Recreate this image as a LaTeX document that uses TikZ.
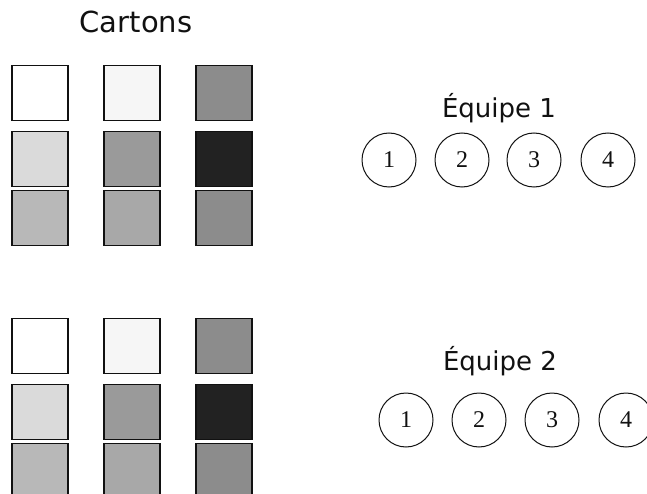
\documentclass[tikz,border=0pt]{standalone}
\usepackage{fontspec}
\setmainfont{DejaVu Sans}
\newfontfamily\numfont{Liberation Serif}
\usetikzlibrary{positioning}
\definecolor{ink}{HTML}{111111}
\definecolor{paper}{HTML}{FFFFFF}
\definecolor{g1}{HTML}{F6F6F6}
\definecolor{g2}{HTML}{DADADA}
\definecolor{g3}{HTML}{B8B8B8}
\definecolor{g4}{HTML}{A8A8A8}
\definecolor{g5}{HTML}{9A9A9A}
\definecolor{g6}{HTML}{8C8C8C}
\definecolor{dark}{HTML}{222222}
\tikzset{
  carton/.style={draw=ink, line width=1.6pt, minimum width=56pt, minimum height=55pt,
    inner sep=0pt},
  joueur/.style={draw=ink, line width=1pt, circle, minimum size=54pt, inner sep=0pt,
    font=\numfont\fontsize{24pt}{26pt}\selectfont, text=ink},
  titre/.style={anchor=base, text=ink, font=\fontsize{29pt}{32pt}\selectfont},
  equipe/.style={anchor=base, text=ink, font=\fontsize{26pt}{30pt}\selectfont},
}

\begin{document}
\begin{tikzpicture}[x=1pt,y=-1pt]
    \useasboundingbox[fill=paper] (0,0) rectangle (647,494);
    \node[titre] (cartons) at (136,33) {Cartons};
    % premier jeu de cartons
    \node[carton, fill=paper] (a11) at (40,93) {};
    \node[carton, fill=g1] (a12) at (132,93) {};
    \node[carton, fill=g6] (a13) at (224,93) {};
    \node[carton, fill=g2] (a21) at (40,159) {};
    \node[carton, fill=g5] (a22) at (132,159) {};
    \node[carton, fill=dark] (a23) at (224,159) {};
    \node[carton, fill=g3] (a31) at (40,218) {};
    \node[carton, fill=g4] (a32) at (132,218) {};
    \node[carton, fill=g6] (a33) at (224,218) {};
    % second jeu de cartons
    \node[carton, fill=paper] (b11) at (40,346) {};
    \node[carton, fill=g1] (b12) at (132,346) {};
    \node[carton, fill=g6] (b13) at (224,346) {};
    \node[carton, fill=g2] (b21) at (40,412) {};
    \node[carton, fill=g5] (b22) at (132,412) {};
    \node[carton, fill=dark] (b23) at (224,412) {};
    \node[carton, fill=g3] (b31) at (40,471) {};
    \node[carton, fill=g4] (b32) at (132,471) {};
    \node[carton, fill=g6] (b33) at (224,471) {};
    % equipes
    \node[equipe] (eq1) at (499,118) {Équipe 1};
    \foreach \i/\x in {1/389,2/462,3/534,4/608}
      \node[joueur] (p1\i) at (\x,160) {\i};
    \node[equipe] (eq2) at (500,370) {Équipe 2};
    \foreach \i/\x in {1/406,2/479,3/552,4/626}
      \node[joueur] (p2\i) at (\x,420) {\i};
\end{tikzpicture}
\end{document}
